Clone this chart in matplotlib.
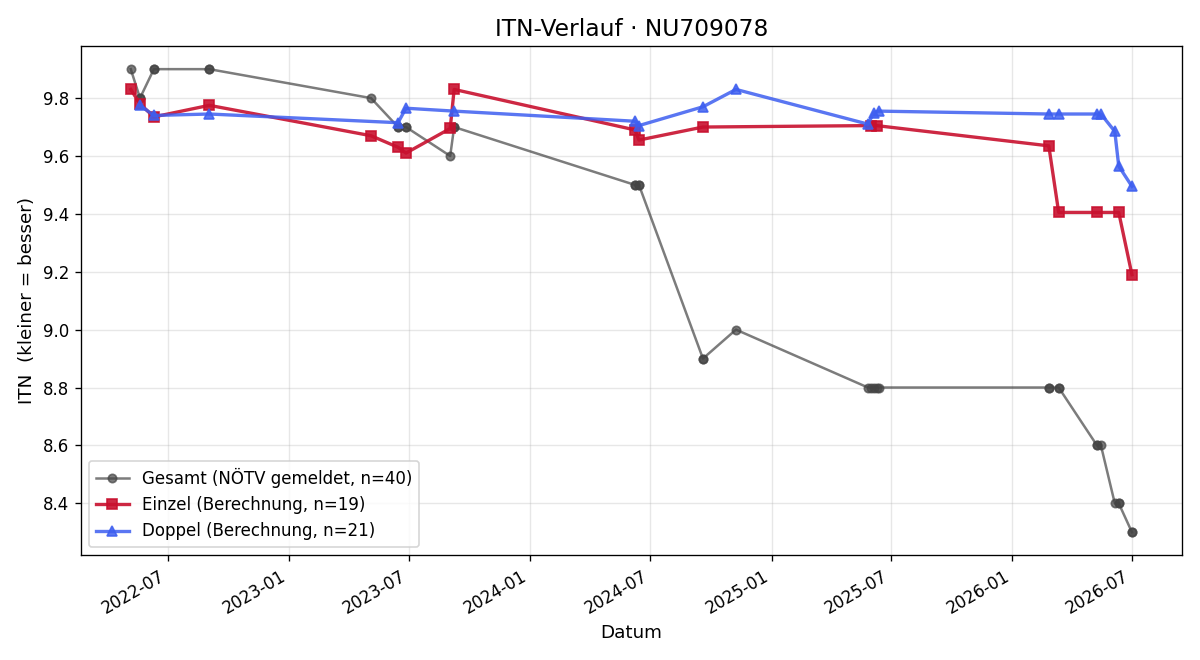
import matplotlib
matplotlib.use("Agg")
import matplotlib.pyplot as plt
import matplotlib.dates as mdates
import pandas as pd

# Gesamt (one entry per match)
gesamt_dates = ["2022-05-06", "2022-05-20", "2022-05-20", "2022-06-10", "2022-06-10",
                "2022-09-02", "2022-09-02", "2023-05-05", "2023-06-15", "2023-06-15",
                "2023-06-27", "2023-06-27", "2023-09-02", "2023-09-08", "2023-09-08",
                "2024-06-08", "2024-06-08", "2024-06-14", "2024-06-14", "2024-09-19",
                "2024-09-19", "2024-11-08", "2025-05-27", "2025-05-31", "2025-06-05",
                "2025-06-09", "2025-06-12", "2026-02-25", "2026-02-25", "2026-03-12",
                "2026-03-12", "2026-05-09", "2026-05-09", "2026-05-15", "2026-06-05",
                "2026-06-11", "2026-06-11", "2026-07-01", "2026-07-01"]
gesamt_itn = [9.9, 9.8, 9.8, 9.9, 9.9,
              9.9, 9.9, 9.8, 9.7, 9.7,
              9.7, 9.7, 9.6, 9.7, 9.7,
              9.5, 9.5, 9.5, 9.5, 8.9,
              8.9, 9.0, 8.8, 8.8, 8.8,
              8.8, 8.8, 8.8, 8.8, 8.8,
              8.8, 8.6, 8.6, 8.6, 8.4,
              8.4, 8.4, 8.3, 8.3]

einzel_dates = ["2022-05-06", "2022-05-20", "2022-06-10", "2022-09-02", "2023-05-05",
                "2023-06-15", "2023-06-27", "2023-09-02", "2023-09-08", "2024-06-08",
                "2024-06-14", "2024-09-19", "2025-05-31", "2025-06-09", "2026-02-25",
                "2026-03-12", "2026-05-09", "2026-06-11", "2026-07-01"]
einzel_itn = [9.83, 9.78, 9.735, 9.775, 9.67,
              9.63, 9.61, 9.695, 9.83, 9.69,
              9.655, 9.70, 9.705, 9.705, 9.635,
              9.405, 9.405, 9.405, 9.19]

doppel_dates = ["2022-05-20", "2022-06-10", "2022-09-02", "2023-06-15", "2023-06-27",
                "2023-09-08", "2024-06-08", "2024-06-14", "2024-09-19", "2024-11-08",
                "2025-05-27", "2025-06-05", "2025-06-12", "2026-02-25", "2026-03-12",
                "2026-05-09", "2026-05-15", "2026-06-05", "2026-06-11", "2026-07-01"]
doppel_itn = [9.775, 9.74, 9.745, 9.715, 9.765,
              9.755, 9.72, 9.705, 9.77, 9.83,
              9.71, 9.75, 9.755, 9.745, 9.745,
              9.745, 9.745, 9.685, 9.565, 9.495]

fig, ax = plt.subplots(figsize=(10, 5.5), dpi=120)

ax.plot(pd.to_datetime(gesamt_dates), gesamt_itn, marker="o", ms=5, lw=1.5,
        color="#444444", alpha=0.7, label="Gesamt (NÖTV gemeldet, n=40)")
ax.plot(pd.to_datetime(einzel_dates), einzel_itn, marker="s", ms=6, lw=2,
        color="#c8102e", alpha=0.9, label="Einzel (Berechnung, n=19)")
ax.plot(pd.to_datetime(doppel_dates), doppel_itn, marker="^", ms=6, lw=2,
        color="#3d5ef0", alpha=0.85, label="Doppel (Berechnung, n=21)")

ax.set_title("ITN-Verlauf · NU709078", fontsize=14)
ax.set_xlabel("Datum", fontsize=11)
ax.set_ylabel("ITN  (kleiner = besser)", fontsize=11)
ax.grid(True, alpha=0.3)
ax.xaxis.set_major_locator(mdates.MonthLocator(bymonth=(1, 7)))
ax.xaxis.set_major_formatter(mdates.DateFormatter("%Y-%m"))
ax.legend(loc="lower left")
fig.autofmt_xdate()
fig.tight_layout()
fig.savefig("out.png")
